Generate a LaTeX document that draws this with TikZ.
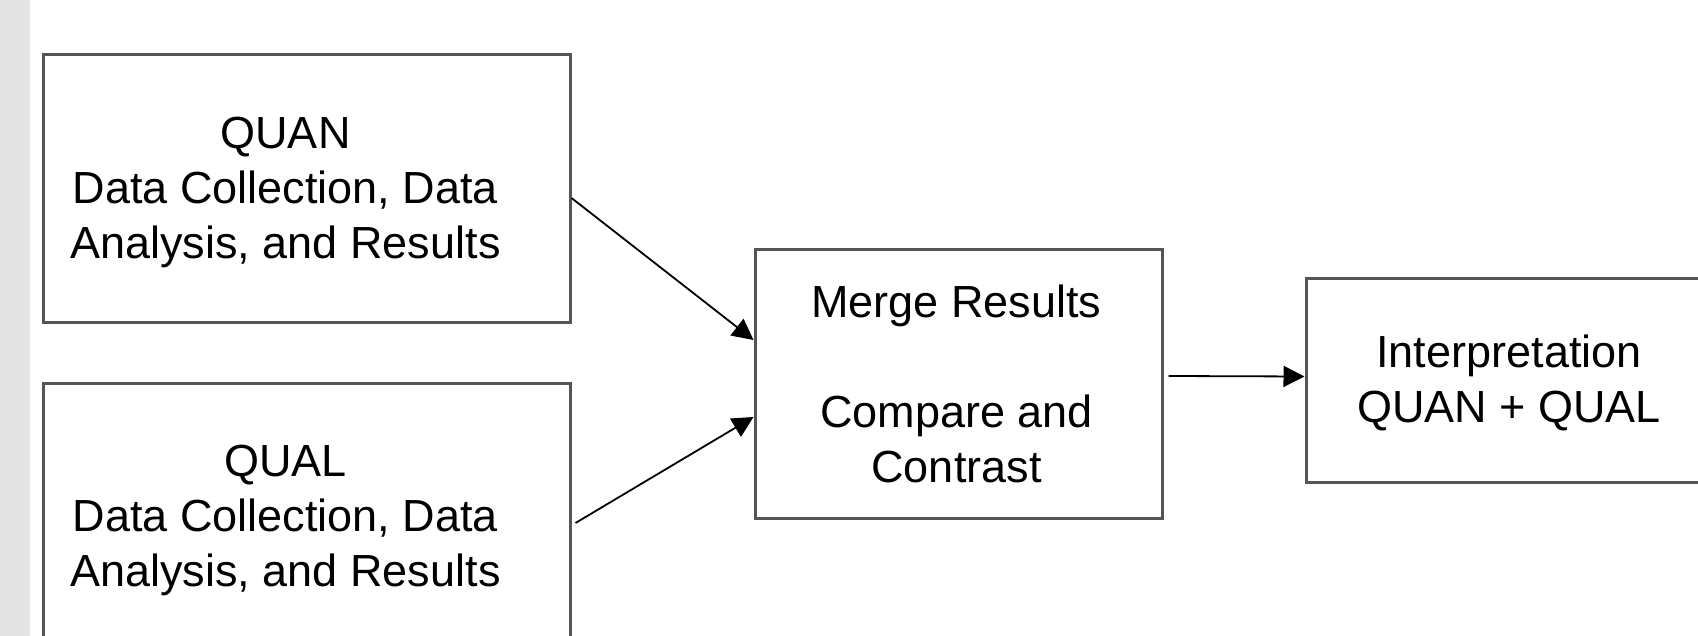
\documentclass[tikz,border=0pt]{standalone}
\usepackage{fontspec}
\setmainfont{Liberation Sans}
\usetikzlibrary{arrows.meta}
\definecolor{edgegray}{HTML}{555555}
\definecolor{stripgray}{HTML}{E3E3E3}
\begin{document}
\begin{tikzpicture}[x=1pt,y=-1pt,
  box/.style={draw=edgegray, line width=3pt, inner sep=0pt},
  boxtext/.style={align=center, inner sep=0pt, font=\fontsize{45}{55}\selectfont},
  link/.style={-{Triangle[length=21pt,width=21pt]}, line width=1.8pt, black}]
\useasboundingbox (0,0) rectangle (1698,636);
\clip (0,0) rectangle (1698,636);
% side strip
\fill[stripgray] (0,0) rectangle (30,636);

% strands
\node[box, minimum width=527pt, minimum height=268pt] (quan) at (306.5,189) {};
\node[boxtext] (quantext) at ([xshift=-21pt,yshift=-3pt]quan.center)
  {QUAN\\Data Collection, Data\\Analysis, and Results};
\node[box, minimum width=527pt, minimum height=268pt] (qual) at (306.5,517) {};
\node[boxtext] (qualtext) at ([xshift=-21pt,yshift=-3pt]qual.center)
  {QUAL\\Data Collection, Data\\Analysis, and Results};

% merging step
\node[box, minimum width=407pt, minimum height=268pt] (merge) at (958.5,384) {};
\node[boxtext] (mergetext) at ([xshift=-2pt]merge.center)
  {Merge Results\\[55pt]Compare and\\Contrast};

% interpretation
\node[box, minimum width=410pt, minimum height=203pt] (interp) at (1511,380.5) {};
\node[boxtext] (interptext) at ([xshift=-2pt,yshift=-2pt]interp.center)
  {Interpretation\\QUAN + QUAL};

% connectors
\draw[link] ([yshift=-9pt]quan.east) -- ([yshift=44pt]merge.west);
\draw[link] ([xshift=4pt,yshift=-6pt]qual.east) -- ([yshift=-33pt]merge.west);
\draw[link] ([xshift=5pt,yshift=8pt]merge.east) -- ([yshift=4pt]interp.west);
\end{tikzpicture}
\end{document}
